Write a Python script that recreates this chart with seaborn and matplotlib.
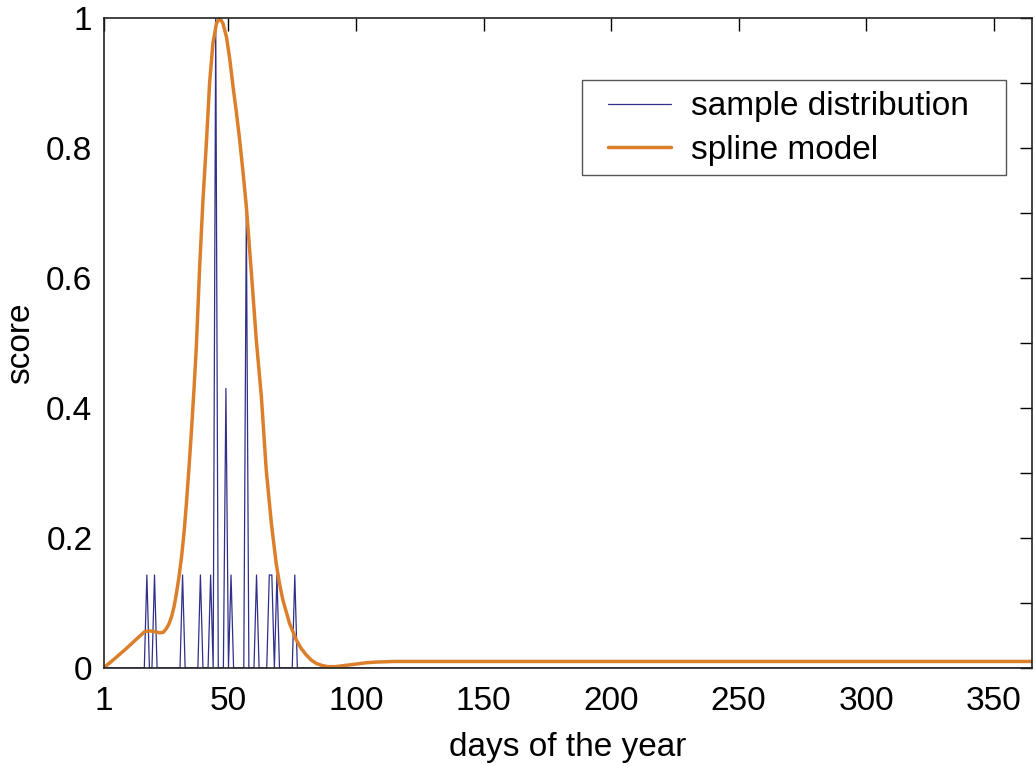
import numpy as np
import pandas as pd
import matplotlib
matplotlib.use("Agg")
import matplotlib.pyplot as plt
from matplotlib.patches import Rectangle
import seaborn as sns

# sample distribution: days with a non-zero score (all other days are 0)
spike_days = [18, 21, 32, 39, 43, 45, 49, 51, 57, 61, 66, 67, 69, 76]
spike_scores = [0.143, 0.143, 0.143, 0.143, 0.143, 1.0, 0.43, 0.143,
                0.70, 0.143, 0.143, 0.143, 0.143, 0.143]

# spline model
spline_days = [1, 5, 9.4, 13, 15.5, 17.2, 19.1, 21, 23.1, 24.5, 25.7, 26.7,
               27.7, 28.7, 29.6, 30.6, 31.6, 32.6, 33.5, 34.5, 35.5, 36.5,
               37.4, 38.7, 40.0, 41.4, 42.6, 43.9, 45.3, 46.6, 47.8, 49.2,
               50.5, 51.8, 53.1, 54.4, 55.7, 57.0, 59.0, 60.9, 62.9, 64.8,
               66.8, 68.7, 70.0, 71.3, 73.9, 76.6, 78.5, 80.5, 82.5, 84.4,
               86.5, 88.9, 92, 96, 100, 104, 107.8, 115, 130, 200, 300, 365]
spline_scores = [0.0, 0.013, 0.028, 0.041, 0.050, 0.056, 0.057, 0.056,
                 0.054, 0.055, 0.061, 0.068, 0.079, 0.095, 0.115, 0.140,
                 0.171, 0.209, 0.253, 0.307, 0.366, 0.430, 0.494, 0.617,
                 0.72, 0.812, 0.90, 0.961, 0.992, 1.0, 0.992, 0.971, 0.937,
                 0.894, 0.855, 0.812, 0.763, 0.71, 0.607, 0.505, 0.417,
                 0.305, 0.223, 0.161, 0.130, 0.105, 0.069, 0.043, 0.030,
                 0.02, 0.012, 0.007, 0.004, 0.002, 0.002, 0.004, 0.006,
                 0.008, 0.009, 0.01, 0.01, 0.01, 0.01, 0.01]

days = np.arange(1, 366)
sample = np.zeros(len(days))
for d, s in zip(spike_days, spike_scores):
    sample[d - 1] = s

df_sample = pd.DataFrame({"day": days, "score": sample})
df_spline = pd.DataFrame({"day": spline_days, "score": spline_scores})

sns.set_theme(style="white")
plt.rcParams["font.family"] = ["Liberation Sans", "DejaVu Sans"]
plt.rcParams["text.color"] = "black"
plt.rcParams["axes.labelcolor"] = "black"
plt.rcParams["xtick.color"] = "black"
plt.rcParams["ytick.color"] = "black"

fig = plt.figure(figsize=(10.35, 7.66), dpi=100)
ax = fig.add_axes([0.1, 0.128, 0.897, 0.8485])

sns.lineplot(data=df_sample, x="day", y="score", ax=ax, color="#30308a",
             linewidth=0.9, label="sample distribution")
sns.lineplot(data=df_spline, x="day", y="score", ax=ax, color="#db7f2b",
             linewidth=2.5, label="spline model")

ax.set_xlim(1, 365)
ax.set_ylim(0, 1)
ax.set_xticks([1, 50, 100, 150, 200, 250, 300, 350])
ax.set_yticks([0, 0.2, 0.4, 0.6, 0.8, 1.0])
ax.set_yticklabels(["0", "0.2", "0.4", "0.6", "0.8", "1"])
ax.set_yticks(np.arange(0.1, 1.0, 0.2), minor=True)
ax.tick_params(which="both", direction="in", length=9, width=1.0,
               top=True, right=True, labelsize=24)
ax.tick_params(axis="x", pad=13)
ax.tick_params(axis="y", pad=8)
ax.set_xlabel("days of the year", fontsize=24, labelpad=11)
ax.set_ylabel("score", fontsize=24, labelpad=7)

for sp in ax.spines.values():
    sp.set_color("#222222")
    sp.set_linewidth(1.2)

# legend frame drawn separately so the padding can match the original
ax.add_patch(Rectangle((0.5153, 0.7585), 0.4567, 0.146, transform=ax.transAxes,
                       facecolor="white", edgecolor="#555555", linewidth=1.0,
                       zorder=4))
leg = ax.legend(loc="upper left", bbox_to_anchor=(0.5434, 0.887),
                fontsize=24, frameon=False, handlelength=1.9,
                handletextpad=0.6, borderpad=0, labelspacing=0.38,
                borderaxespad=0)
leg.set_zorder(5)

plt.savefig("out.png", dpi=100)
